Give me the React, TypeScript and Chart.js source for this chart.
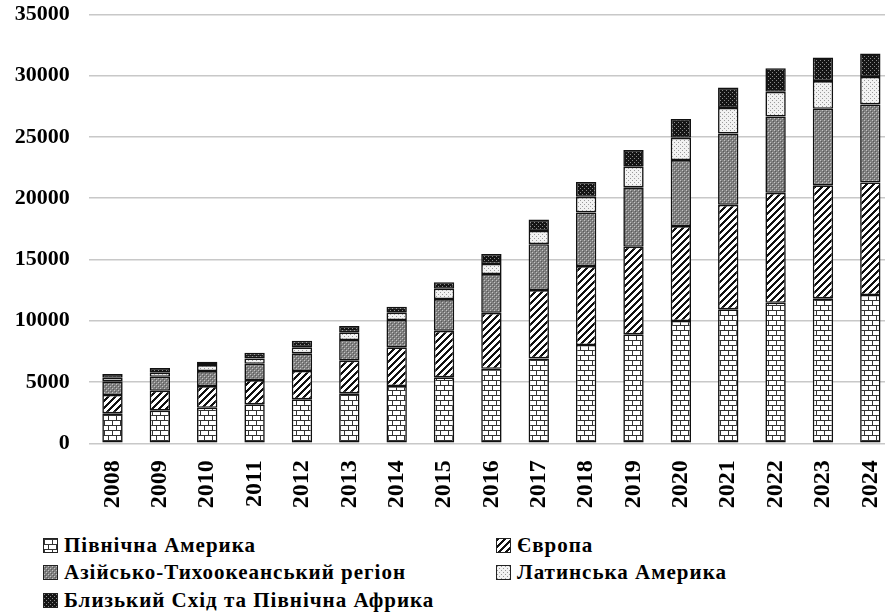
import React, { useEffect, useRef, useMemo } from "react";
import { Chart, registerables } from "chart.js";

Chart.register(...registerables);

const years = ["2008", "2009", "2010", "2011", "2012", "2013", "2014", "2015", "2016", "2017", "2018", "2019", "2020", "2021", "2022", "2023", "2024"];

const northAmerica = [2450, 2660, 2900, 3180, 3590, 4080, 4670, 5380, 6080, 6930, 8020, 8890, 9980, 10930, 11470, 11830, 12100];
const europe = [1490, 1630, 1770, 1980, 2310, 2660, 3160, 3800, 4570, 5570, 6440, 7150, 7750, 8530, 8970, 9220, 9190];
const asiaPacific = [1120, 1140, 1220, 1330, 1440, 1690, 2230, 2590, 3160, 3750, 4380, 4850, 5380, 5820, 6230, 6250, 6360];
const latinAmerica = [290, 330, 490, 440, 490, 630, 600, 840, 820, 1080, 1270, 1680, 1820, 2090, 2010, 2260, 2250];
const middleEast = [300, 380, 270, 460, 540, 510, 490, 540, 820, 930, 1220, 1360, 1530, 1660, 1930, 1930, 1910];

const seriesNames = [
  "Північна Америка",
  "Європа",
  "Азійсько-Тихоокеанський регіон",
  "Латинська Америка",
  "Близький Схід та Північна Африка",
];

const yTicks = [0, 5000, 10000, 15000, 20000, 25000, 30000, 35000];

const FONT = "'Liberation Serif', 'Times New Roman', serif";
const W = 894;
const H = 525;
const PLOT_TOP = 14.4;
const PLOT_BOTTOM = 443.3;
const PLOT_LEFT = 88.8;

type Kind = "brick" | "diag" | "gray" | "light" | "dark";

function makeTile(kind: Kind): HTMLCanvasElement {
  const c = document.createElement("canvas");
  const ctx = c.getContext("2d")!;
  if (kind === "brick") {
    c.width = 8; c.height = 10;
    ctx.fillStyle = "#ffffff"; ctx.fillRect(0, 0, 8, 10);
    ctx.fillStyle = "#333333";
    ctx.fillRect(0, 0, 8, 1);
    ctx.fillRect(0, 5, 8, 1);
    ctx.fillRect(0, 0, 1, 5);
    ctx.fillRect(4, 5, 1, 5);
  } else if (kind === "diag") {
    c.width = 7; c.height = 7;
    ctx.fillStyle = "#ffffff"; ctx.fillRect(0, 0, 7, 7);
    ctx.fillStyle = "#111111";
    for (let y = 0; y < 7; y++) {
      const x0 = 6 - y;
      for (let k = 0; k < 3; k++) ctx.fillRect((x0 + k) % 7, y, 1, 1);
    }
  } else {
    c.width = 4; c.height = 4;
    const bg = kind === "gray" ? "#808080" : kind === "light" ? "#f2f2f2" : "#151515";
    const dot = kind === "gray" ? "#c4c4c4" : kind === "light" ? "#9a9a9a" : "#8a8a8a";
    ctx.fillStyle = bg; ctx.fillRect(0, 0, 4, 4);
    ctx.fillStyle = dot;
    ctx.fillRect(0, 0, 1, 1);
    ctx.fillRect(2, 2, 1, 1);
    if (kind === "gray") {
      ctx.fillStyle = "#5a5a5a";
      ctx.fillRect(1, 1, 1, 1);
      ctx.fillRect(3, 3, 1, 1);
    }
  }
  return c;
}

const kinds: Kind[] = ["brick", "diag", "gray", "light", "dark"];
const seriesValues = [northAmerica, europe, asiaPacific, latinAmerica, middleEast];

export default function App() {
  const canvasRef = useRef<HTMLCanvasElement | null>(null);
  const tiles = useMemo(() => kinds.map((k) => makeTile(k)), []);
  const tileUrls = useMemo(() => tiles.map((t) => t.toDataURL()), [tiles]);

  useEffect(() => {
    const canvas = canvasRef.current;
    if (!canvas) return;
    const ctx = canvas.getContext("2d")!;
    const datasets = seriesValues.map((vals, i) => ({
      label: seriesNames[i],
      data: vals,
      backgroundColor: ctx.createPattern(tiles[i], "repeat") as any,
      borderColor: "#111111",
      borderWidth: 1.6,
      borderSkipped: false as any,
      barPercentage: 0.43,
      categoryPercentage: 1,
    }));
    const chart = new Chart(canvas, {
      type: "bar",
      data: { labels: years, datasets },
      options: {
        responsive: false,
        animation: false,
        layout: { padding: { top: PLOT_TOP, left: 0, right: 0, bottom: 0 } },
        plugins: { legend: { display: false }, tooltip: { enabled: false } },
        scales: {
          x: {
            stacked: true,
            grid: { display: false, drawTicks: false },
            border: { display: false },
            ticks: {
              color: "#000",
              font: { family: FONT, size: 24, weight: "bold" },
              minRotation: 90,
              maxRotation: 90,
              padding: 17,
              autoSkip: false,
            },
            afterFit: (s: any) => {
              s.height = H - PLOT_BOTTOM;
              s.paddingLeft = 0; s.paddingRight = 0; s.paddingTop = 0; s.paddingBottom = 0;
            },
          },
          y: {
            stacked: true,
            min: 0,
            max: 35000,
            afterBuildTicks: (s: any) => { s.ticks = yTicks.map((v) => ({ value: v })); },
            ticks: {
              color: "#000",
              font: { family: FONT, size: 22, weight: "bold" },
              padding: 19,
              callback: (v: any) => String(v),
            },
            grid: { color: "#c8c8c8", lineWidth: 1.5, drawTicks: false },
            border: { display: false },
            afterFit: (s: any) => {
              s.width = PLOT_LEFT;
              s.paddingTop = 0; s.paddingBottom = 0; s.paddingLeft = 0; s.paddingRight = 0;
            },
          },
        },
      },
    });
    return () => chart.destroy();
  }, [tiles]);

  const legendPos = [
    { idx: 0, x: 43, y: 545 },
    { idx: 2, x: 43, y: 572.7 },
    { idx: 4, x: 43, y: 600 },
    { idx: 1, x: 496, y: 545 },
    { idx: 3, x: 496, y: 572.7 },
  ];

  return (
    <div style={{ position: "absolute", left: 0, top: 0, width: 885, height: 614, overflow: "hidden", background: "#fff" }}>
      <canvas ref={canvasRef} width={W} height={H} style={{ width: W, height: H, display: "block" }} />
      {legendPos.map((p) => (
        <div
          key={p.idx}
          style={{
            position: "absolute",
            left: p.x,
            top: p.y - 12,
            height: 24,
            display: "flex",
            alignItems: "center",
            fontFamily: FONT,
            fontWeight: "bold",
            fontSize: 21,
            letterSpacing: 1,
            color: "#000",
            whiteSpace: "nowrap",
          }}
        >
          <span
            style={{
              display: "inline-block",
              width: 13,
              height: 13,
              border: "1px solid #222",
              backgroundImage: `url(${tileUrls[p.idx]})`,
              backgroundRepeat: "repeat",
              marginRight: 6,
            }}
          />
          <span>{seriesNames[p.idx]}</span>
        </div>
      ))}
    </div>
  );
}
